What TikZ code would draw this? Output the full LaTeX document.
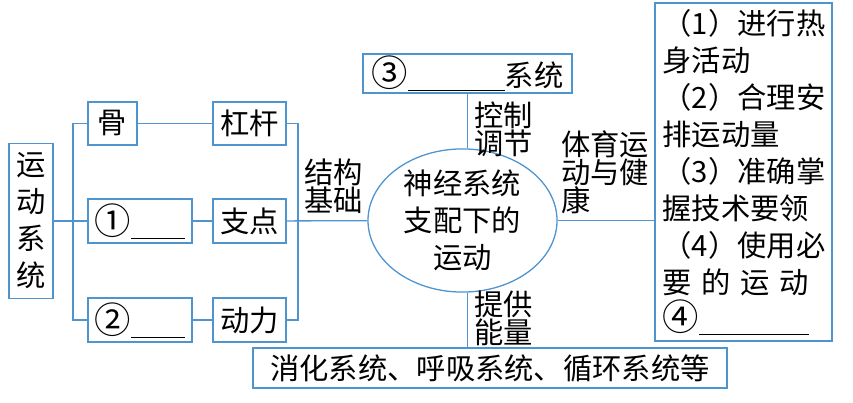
\documentclass[tikz,border=0pt]{standalone}
\usepackage{fontspec}
\setmainfont{Noto Sans CJK SC}
\usetikzlibrary{shapes.geometric}
\definecolor{boxblue}{RGB}{78,148,206}
\newcommand{\fillin}[1]{\rule[-4pt]{#1}{0.9pt}}
\newcommand{\circnum}[1]{{\fontsize{31}{31}\selectfont #1}}
\begin{document}
\begin{tikzpicture}[x=0.03cm,y=-0.03cm,
    box/.style={draw=boxblue,line width=1.1pt,inner sep=0pt,align=center,
      font=\fontsize{25}{31.6}\selectfont},
    lbl/.style={inner sep=0pt,align=left,font=\fontsize{25}{24}\selectfont},
    link/.style={draw=boxblue,line width=1.1pt}]
  \useasboundingbox (0,0) rectangle (853,403);
  \node[box,minimum width=1.32cm,minimum height=4.65cm] (sys) at (31,221) {运\\动\\系\\统};
  \node[box,minimum width=1.47cm,minimum height=1.29cm] (gu) at (112.5,123.5) {骨};
  \node[box,minimum width=3.12cm,minimum height=1.32cm] (yi) at (140,221) {\circnum{①}\fillin{1.62cm}};
  \node[box,minimum width=3.12cm,minimum height=1.32cm] (er) at (140,320) {\circnum{②}\fillin{1.62cm}};
  \node[box,minimum width=2.19cm,minimum height=1.29cm] (gangan) at (249.5,123.5) {杠杆};
  \node[box,minimum width=2.19cm,minimum height=1.32cm] (zhidian) at (249.5,221) {支点};
  \node[box,minimum width=2.19cm,minimum height=1.32cm] (dongli) at (249.5,320) {动力};
  \node[box,ellipse,minimum width=5.67cm,minimum height=3.75cm] (center) at (462.5,220.5) {神经系统\\支配下的\\运动};
  \node[box,minimum width=6.27cm,minimum height=1.17cm] (control) at (467.5,73.5) {\circnum{③}\fillin{2.9cm}系统};
  \node[box,minimum width=14.22cm,minimum height=1.2cm] (energy) at (490,368) {消化系统、呼吸系统、循环系统等};
  \node[box,minimum width=5.31cm,minimum height=10.14cm,text width=4.85cm,align=left] (health) at (743.5,172) {（1）进行热\\身活动\\（2）合理安\\排运动量\\（3）准确掌\\握技术要领\\（4）使用必\\\makebox[4.8cm][s]{要 的 运 动}\\\circnum{④}\fillin{3.3cm}};
  \node[lbl,anchor=west] (jiegou) at (304,186) {结构\\基础};
  \node[lbl,anchor=west] (kongzhi) at (474,129) {控制\\调节};
  \node[lbl,anchor=west] (tigong) at (474,318) {提供\\能量};
  \node[lbl,anchor=west] (tiyu) at (561,172) {体育运\\动与健\\康};
  \coordinate (lj) at (73,221);
  \coordinate (rj) at (298,221);
  \draw[link] (sys) -- (yi);
  \draw[link] (gu.west) -| (lj) |- (er.west);
  \draw[link] (gu) -- (gangan);
  \draw[link] (yi) -- (zhidian);
  \draw[link] (er) -- (dongli);
  \draw[link] (gangan.east) -| (rj) |- (dongli.east);
  \draw[link] (zhidian) -- (center);
  \draw[link] (control.south) -- (control.south |- center.north);
  \draw[link] (control.south |- center.south) -- (control.south |- energy.north);
  \draw[link] (center.east) -- (center.east -| health.west);
\end{tikzpicture}
\end{document}
